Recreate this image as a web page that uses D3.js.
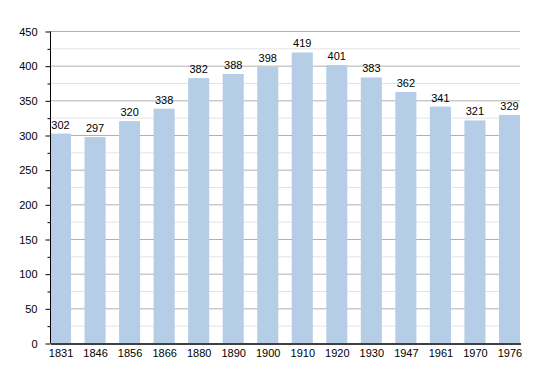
<!DOCTYPE html>
<html>
<head>
<meta charset="utf-8">
<script src="https://cdn.jsdelivr.net/npm/d3@7"></script>
<style>
  body { margin: 0; background: #fff; }
  svg text { font-family: "Liberation Sans", Arial, sans-serif; font-size: 11px; fill: #000; }
</style>
</head>
<body>
<div class="chart"></div>
<script>
// years and population values
const years = ['1831', '1846', '1856', '1866', '1880', '1890', '1900', '1910', '1920', '1930', '1947', '1961', '1970', '1976'];
const population = [302, 297, 320, 338, 382, 388, 398, 419, 401, 383, 362, 341, 321, 329];
const majorTicks = [0, 50, 100, 150, 200, 250, 300, 350, 400, 450];
const minorTicks = [25, 75, 125, 175, 225, 275, 325, 375, 425];

const width = 550;
const height = 373;
const plotLeft = 50, plotRight = 520, plotTop = 31, plotBottom = 343;

const svg = d3.select('.chart')
    .append('svg')
    .attr('width', width)
    .attr('height', height);

const x = d3.scaleBand()
    .domain(years)
    .range([plotLeft, plotRight])
    .paddingInner(0.39)
    .paddingOuter(0)
    .align(0);

const y = d3.scaleLinear()
    .domain([0, 450])
    .range([plotBottom, plotTop]);

// minor grid lines
svg.append('g')
    .selectAll('line')
    .data(minorTicks)
    .enter()
    .append('line')
    .attr('x1', plotLeft)
    .attr('x2', plotRight)
    .attr('y1', d => y(d) + 0.5)
    .attr('y2', d => y(d) + 0.5)
    .attr('stroke', '#e4e4e4');

// major grid lines
svg.append('g')
    .selectAll('line')
    .data(majorTicks.slice(1))
    .enter()
    .append('line')
    .attr('x1', plotLeft)
    .attr('x2', plotRight)
    .attr('y1', d => y(d) + 0.5)
    .attr('y2', d => y(d) + 0.5)
    .attr('stroke', '#b0b0b0');

// bars
svg.append('g')
    .selectAll('rect')
    .data(population)
    .enter()
    .append('rect')
    .attr('x', (d, i) => x(years[i]))
    .attr('y', d => y(d))
    .attr('width', x.bandwidth())
    .attr('height', d => y(0) - y(d))
    .attr('fill', '#b5cde7');

// value labels
svg.append('g')
    .selectAll('text')
    .data(population)
    .enter()
    .append('text')
    .text(d => d)
    .attr('x', (d, i) => x(years[i]) + x.bandwidth() / 2)
    .attr('y', d => y(d) - 5)
    .attr('text-anchor', 'middle');

// y axis
const yAxis = svg.append('g')
    .attr('transform', `translate(${plotLeft + 0.5},0.5)`)
    .call(d3.axisLeft(y).tickValues(majorTicks).tickSize(5).tickPadding(8));
yAxis.selectAll('text').attr('font-family', null).style('font-size', '11px');
yAxis.select('.domain').attr('d', `M0,${plotTop}V${plotBottom}`);

svg.append('g')
    .attr('transform', `translate(${plotLeft + 0.5},0.5)`)
    .call(d3.axisLeft(y).tickValues(minorTicks).tickSize(3).tickFormat(''))
    .select('.domain').remove();

// x axis
const xAxis = svg.append('g')
    .attr('transform', `translate(0.5,${plotBottom + 0.5})`)
    .call(d3.axisBottom(x).tickSize(0).tickPadding(6).tickSizeOuter(0));
xAxis.selectAll('text').attr('font-family', null).style('font-size', '11px');
xAxis.select('.domain').attr('stroke-width', 1.5);
</script>
</body>
</html>
